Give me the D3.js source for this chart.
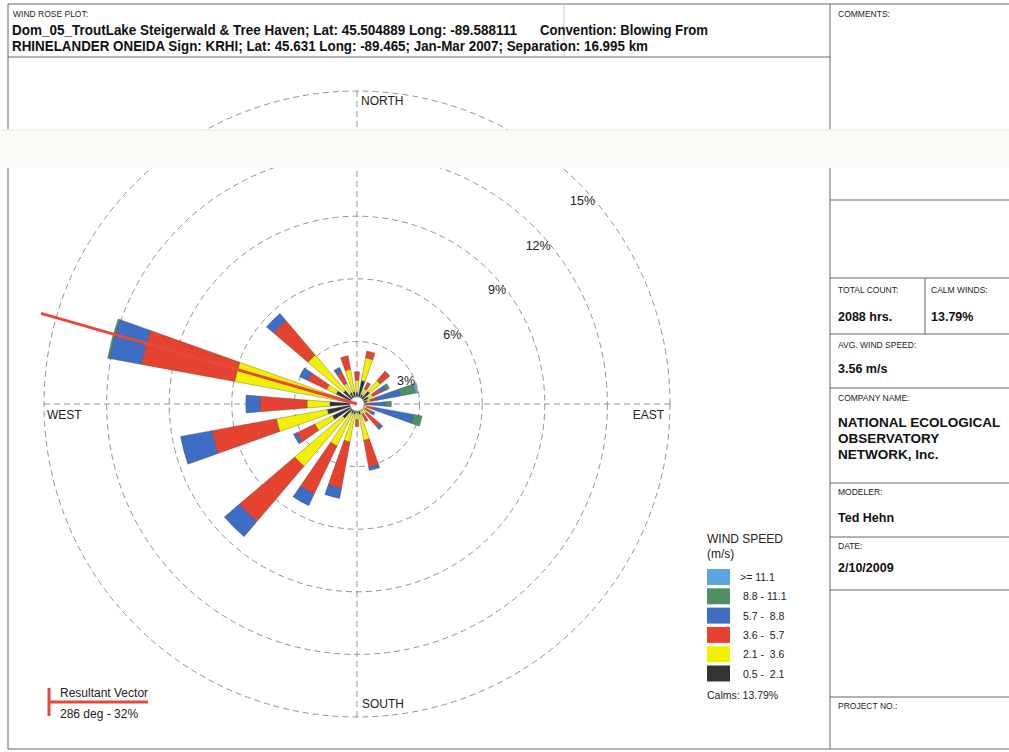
<!DOCTYPE html>
<html><head><meta charset="utf-8">
<script src="https://cdn.jsdelivr.net/npm/d3@7/dist/d3.min.js"></script>
<style>body{margin:0;background:#fff}svg{display:block;font-family:"Liberation Sans",Arial,sans-serif}</style>
</head><body><svg id="c" width="1009" height="752"></svg>
<script>
// ---------- DATA ----------
const directions = [0,15,30,45,60,75,90,105,120,135,150,165,180,195,210,225,240,255,270,285,300,315,330,345];
// percent of hours per speed class (m/s), per direction (blowing from)
const pct_0_5_2_1  = [0.55,1.15,0.50,0.80,0.60,0.50,0.30,0.35,0.30,0.35,0.35,0.50,0.40,0.50,0.50,0.90,1.30,1.45,1.30,0.90,1.10,0.85,0.60,0.60];
const pct_2_1_3_6  = [0.59,1.10,0.30,0.67,0.25,0.15,0.10,0.15,0.15,0.25,0.20,1.27,0.35,1.35,1.73,3.02,0.94,2.48,1.10,5.06,0.52,2.24,0.50,1.09];
const pct_3_6_5_7  = [0.41,0.33,0.35,0.60,0.45,0.30,0.20,0.33,0.35,0.85,0.40,1.30,0.33,2.25,2.55,3.48,0.96,3.14,2.25,4.54,1.00,2.16,0.60,0.66];
const pct_5_7_8_8  = [0,0,0,0,0.25,1.18,0.81,1.94,0.15,0.17,0,0.17,0,0.50,0.62,0.95,0.17,1.53,0.68,1.55,0.43,0.45,0.25,0];
const pct_8_8_11_1 = [0,0,0,0,0.17,0.72,0.24,0.40,0,0,0,0,0,0,0,0,0,0,0,0.10,0,0,0,0];
const pct_11_1     = [0,0,0,0,0,0.12,0,0,0,0,0,0,0,0,0,0,0,0,0,0,0,0,0,0];
const speedLabels = ["0.5 -  2.1","2.1 -  3.6","3.6 -  5.7","5.7 -  8.8","8.8 - 11.1",">= 11.1"];
const speedColors = ["#333333","#f2f200","#e5432f","#3e6dc6","#4e8f64","#5ba6de"];
const ringTicks = [3,6,9,12,15];
const compass = [{t:"NORTH",a:0},{t:"EAST",a:90},{t:"SOUTH",a:180},{t:"WEST",a:270}];
const resultant = {deg:286, pct:32};
const calms = "13.79%";
const titleLine1a = "Dom_05_TroutLake Steigerwald & Tree Haven; Lat: 45.504889 Long: -89.588111";
const titleLine1b = "Convention: Blowing From";
const titleLine2 = "RHINELANDER ONEIDA Sign: KRHI; Lat: 45.631 Long: -89.465; Jan-Mar 2007; Separation: 16.995 km";

// ---------- SETUP ----------
const svg = d3.select("#c");
const W=1009,H=752;
const cx=357, cy=404;
const r = d3.scaleLinear().domain([0,15]).range([0,313]);
const rad = d => d*Math.PI/180;
const series = [pct_0_5_2_1,pct_2_1_3_6,pct_3_6_5_7,pct_5_7_8_8,pct_8_8_11_1,pct_11_1];

// frame
const frame = svg.append("g").attr("stroke","#666").attr("stroke-width",1).attr("fill","none");
frame.append("line").attr("x1",8).attr("y1",4).attr("x2",W).attr("y2",4);
frame.append("line").attr("x1",8).attr("y1",4).attr("x2",8).attr("y2",749);
frame.append("line").attr("x1",8).attr("y1",749).attr("x2",W).attr("y2",749);
frame.append("line").attr("x1",8).attr("y1",57).attr("x2",830).attr("y2",57);
frame.append("line").attr("x1",830).attr("y1",4).attr("x2",830).attr("y2",749);
frame.append("line").attr("x1",564).attr("y1",4).attr("x2",564).attr("y2",57).attr("stroke","#ccc");
[200,278,334,388,483,537,590,697].forEach(y=>frame.append("line").attr("x1",830).attr("y1",y).attr("x2",W).attr("y2",y));
frame.append("line").attr("x1",925).attr("y1",278).attr("x2",925).attr("y2",334);

// header
svg.append("text").attr("x",13).attr("y",17).attr("font-size",8.5).attr("fill","#222").text("WIND ROSE PLOT:");
svg.append("text").attr("x",12).attr("y",35).attr("font-size",14).attr("font-weight","bold").attr("fill","#111")
  .attr("textLength",505).attr("lengthAdjust","spacingAndGlyphs").text(titleLine1a);
svg.append("text").attr("x",540).attr("y",35).attr("font-size",14).attr("font-weight","bold").attr("fill","#111")
  .attr("textLength",168).attr("lengthAdjust","spacingAndGlyphs").text(titleLine1b);
svg.append("text").attr("x",12).attr("y",51).attr("font-size",14).attr("font-weight","bold").attr("fill","#111")
  .attr("textLength",636).attr("lengthAdjust","spacingAndGlyphs").text(titleLine2);

// ---------- ROSE ----------
const g = svg.append("g").attr("transform",`translate(${cx},${cy})`);
const grid = g.append("g").attr("fill","none").attr("stroke","#777").attr("stroke-width",0.8).attr("stroke-dasharray","6,4");
grid.append("line").attr("x1",0).attr("y1",-r(15)).attr("x2",0).attr("y2",r(15));
grid.append("line").attr("x1",-r(15)).attr("y1",0).attr("x2",r(15)).attr("y2",0);
grid.selectAll("circle").data(ringTicks).join("circle").attr("r",d=>r(d));

// bars
const halfW = 4.6;
const arc = d3.arc();
directions.forEach((dir,i)=>{
  let c0 = 0;
  series.forEach((s,k)=>{
    const v = s[i];
    if(v<=0) return;
    const c1 = c0+v;
    g.append("path").attr("d",arc({innerRadius:r(c0),outerRadius:r(c1),startAngle:rad(dir-halfW),endAngle:rad(dir+halfW)}))
      .attr("fill",speedColors[k]).attr("stroke","#444").attr("stroke-width",0.35);
    c0 = c1;
  });
});
g.append("circle").attr("r",7).attr("fill","#fff").attr("stroke","#bbb").attr("stroke-width",0.5);

// ring labels along a diagonal offset line
const off = 35;
ringTicks.forEach(t=>{
  const R = r(t);
  const v = (-off + Math.sqrt(2*R*R - off*off))/2, u = v+off;
  g.append("text").attr("x",u).attr("y",-v).attr("dy","0.35em").attr("text-anchor","end")
   .attr("font-size",12.5).attr("fill","#222").text(t+"%");
});

// compass labels
compass.forEach(c=>{
  const R = r(15);
  const t = g.append("text").attr("font-size",12).attr("fill","#222").text(c.t);
  if(c.a===0) t.attr("x",4).attr("y",-R+14);
  if(c.a===180) t.attr("x",5).attr("y",R-9);
  if(c.a===270) t.attr("x",-R+3).attr("y",15);
  if(c.a===90) t.attr("x",R-6).attr("y",15).attr("text-anchor","end");
});

// resultant vector
const rv = r(15)*1.05;
g.append("line").attr("x1",0).attr("y1",0)
  .attr("x2",rv*Math.sin(rad(resultant.deg))).attr("y2",-rv*Math.cos(rad(resultant.deg)))
  .attr("stroke","#e6493a").attr("stroke-width",3);

// ---------- LEGEND ----------
const lg = svg.append("g").attr("transform","translate(707,0)");
lg.append("text").attr("x",0).attr("y",543).attr("font-size",12).attr("fill","#222").text("WIND SPEED");
lg.append("text").attr("x",0).attr("y",558).attr("font-size",12).attr("fill","#222").text("(m/s)");
const order = d3.range(speedLabels.length).reverse();
order.forEach((k,j)=>{
  const y = 569 + j*19.3;
  lg.append("rect").attr("x",0).attr("y",y).attr("width",23).attr("height",16).attr("fill",speedColors[k]);
  lg.append("text").attr("x",k===5?33:36).attr("y",y+12).attr("font-size",10.5).attr("fill","#222")
    .attr("xml:space","preserve").style("white-space","pre").text(speedLabels[k]);
});
lg.append("text").attr("x",0).attr("y",699).attr("font-size",10.5).attr("fill","#222").text("Calms: "+calms);

// resultant legend
svg.append("line").attr("x1",49).attr("y1",702).attr("x2",148).attr("y2",702).attr("stroke","#e6493a").attr("stroke-width",3);
svg.append("line").attr("x1",49).attr("y1",688).attr("x2",49).attr("y2",716).attr("stroke","#e6493a").attr("stroke-width",3);
svg.append("text").attr("x",60).attr("y",697).attr("font-size",12).attr("fill","#222").text("Resultant Vector");
svg.append("text").attr("x",60).attr("y",718).attr("font-size",12).attr("fill","#222").text(`${resultant.deg} deg - ${resultant.pct}%`);

// ---------- RIGHT PANEL ----------
const small = (x,y,t)=>svg.append("text").attr("x",x).attr("y",y).attr("font-size",8.5).attr("fill","#222").text(t);
const big = (x,y,t,fs)=>svg.append("text").attr("x",x).attr("y",y).attr("font-size",fs||12.5).attr("font-weight","bold").attr("fill","#111").text(t);
small(838,17,"COMMENTS:");
small(838,293,"TOTAL COUNT:"); small(931,293,"CALM WINDS:");
big(838,321,"2088 hrs."); big(931,321,calms);
small(838,348,"AVG. WIND SPEED:");
big(838,373,"3.56 m/s");
small(838,401,"COMPANY NAME:");
big(838,427,"NATIONAL ECOLOGICAL",13.5); big(838,443,"OBSERVATORY",13.5); big(838,459,"NETWORK, Inc.",13.5);
small(838,495,"MODELER:");
big(838,522,"Ted Hehn");
small(838,549,"DATE:");
big(838,572,"2/10/2009");
small(838,709,"PROJECT NO.:");

// scan artifact band
svg.append("rect").attr("x",0).attr("y",130).attr("width",W).attr("height",38).attr("fill","#fbfbf8");
svg.append("line").attr("x1",0).attr("y1",130).attr("x2",W).attr("y2",130).attr("stroke","#eeeeea").attr("stroke-width",1.5);
</script></body></html>
